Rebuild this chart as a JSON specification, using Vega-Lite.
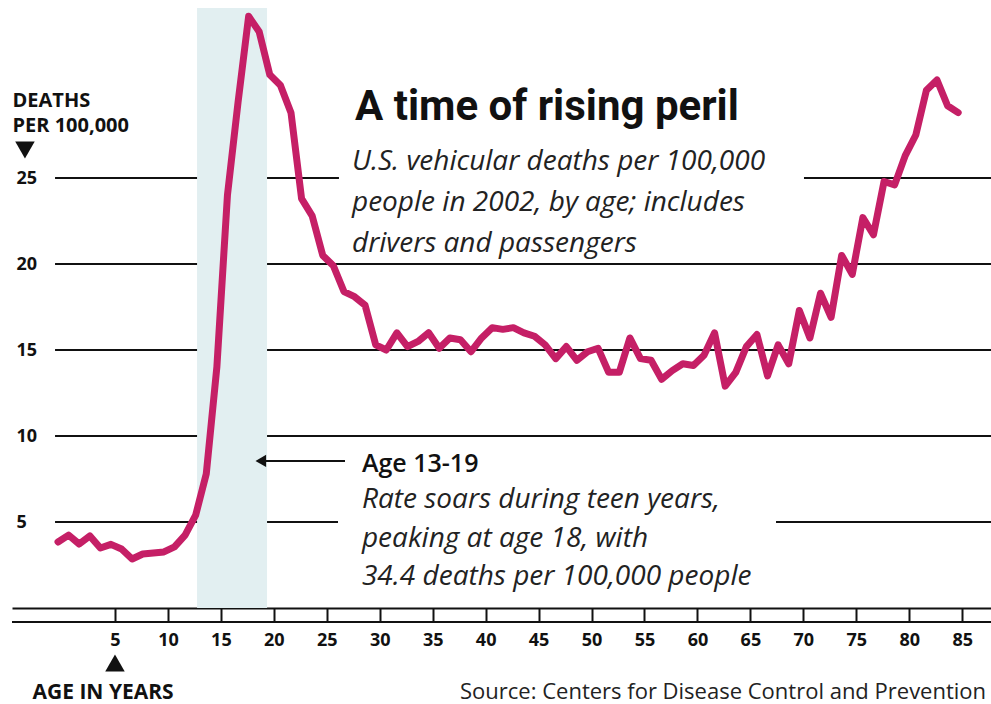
{
  "$schema": "https://vega.github.io/schema/vega-lite/v6.json",
  "width": 979,
  "height": 608,
  "padding": {"left": 12, "top": 0, "right": 0, "bottom": 96},
  "autosize": {"type": "none"},
  "background": "white",
  "config": {"view": {"stroke": null}, "font": "Open Sans", "axis": {"grid": false}},
  "datasets": {
    "deaths": [
      {"age": 0, "rate": 3.84}, {"age": 1, "rate": 4.24}, {"age": 2, "rate": 3.72}, {"age": 3, "rate": 4.19},
      {"age": 4, "rate": 3.49}, {"age": 5, "rate": 3.7}, {"age": 6, "rate": 3.43}, {"age": 7, "rate": 2.85},
      {"age": 8, "rate": 3.14}, {"age": 9, "rate": 3.2}, {"age": 10, "rate": 3.26}, {"age": 11, "rate": 3.55},
      {"age": 12, "rate": 4.24}, {"age": 13, "rate": 5.4}, {"age": 14, "rate": 7.8}, {"age": 15, "rate": 14.0},
      {"age": 16, "rate": 24.0}, {"age": 17, "rate": 29.4}, {"age": 18, "rate": 34.4}, {"age": 19, "rate": 33.5},
      {"age": 20, "rate": 31.0}, {"age": 21, "rate": 30.4}, {"age": 22, "rate": 28.8}, {"age": 23, "rate": 23.8},
      {"age": 24, "rate": 22.8}, {"age": 25, "rate": 20.5}, {"age": 26, "rate": 19.9}, {"age": 27, "rate": 18.4},
      {"age": 28, "rate": 18.1}, {"age": 29, "rate": 17.6}, {"age": 30, "rate": 15.3}, {"age": 31, "rate": 15.0},
      {"age": 32, "rate": 16.0}, {"age": 33, "rate": 15.2}, {"age": 34, "rate": 15.5}, {"age": 35, "rate": 16.0},
      {"age": 36, "rate": 15.1}, {"age": 37, "rate": 15.7}, {"age": 38, "rate": 15.6}, {"age": 39, "rate": 14.9},
      {"age": 40, "rate": 15.7}, {"age": 41, "rate": 16.3}, {"age": 42, "rate": 16.2}, {"age": 43, "rate": 16.3},
      {"age": 44, "rate": 16.0}, {"age": 45, "rate": 15.8}, {"age": 46, "rate": 15.3}, {"age": 47, "rate": 14.5},
      {"age": 48, "rate": 15.2}, {"age": 49, "rate": 14.4}, {"age": 50, "rate": 14.9}, {"age": 51, "rate": 15.1},
      {"age": 52, "rate": 13.7}, {"age": 53, "rate": 13.7}, {"age": 54, "rate": 15.7}, {"age": 55, "rate": 14.5},
      {"age": 56, "rate": 14.4}, {"age": 57, "rate": 13.3}, {"age": 58, "rate": 13.8}, {"age": 59, "rate": 14.2},
      {"age": 60, "rate": 14.1}, {"age": 61, "rate": 14.7}, {"age": 62, "rate": 16.0}, {"age": 63, "rate": 12.9},
      {"age": 64, "rate": 13.7}, {"age": 65, "rate": 15.2}, {"age": 66, "rate": 15.9}, {"age": 67, "rate": 13.5},
      {"age": 68, "rate": 15.3}, {"age": 69, "rate": 14.2}, {"age": 70, "rate": 17.3}, {"age": 71, "rate": 15.7},
      {"age": 72, "rate": 18.3}, {"age": 73, "rate": 16.9}, {"age": 74, "rate": 20.5}, {"age": 75, "rate": 19.4},
      {"age": 76, "rate": 22.7}, {"age": 77, "rate": 21.7}, {"age": 78, "rate": 24.8}, {"age": 79, "rate": 24.6},
      {"age": 80, "rate": 26.3}, {"age": 81, "rate": 27.5}, {"age": 82, "rate": 30.1}, {"age": 83, "rate": 30.7},
      {"age": 84, "rate": 29.2}, {"age": 85, "rate": 28.8}
    ],
    "grid": [
      {"level": 5, "from": -0.28, "to": 26.44}, {"level": 5, "from": 67.8, "to": 88.1},
      {"level": 10, "from": -0.28, "to": 88.1},
      {"level": 15, "from": -0.28, "to": 88.1},
      {"level": 20, "from": -0.28, "to": 88.1},
      {"level": 25, "from": -0.28, "to": 26.53}, {"level": 25, "from": 70.44, "to": 88.1}
    ]
  },
  "layer": [
    {
      "data": {"name": "grid"},
      "mark": {"type": "rule", "color": "#111111", "strokeWidth": 1.8},
      "encoding": {
        "x": {"field": "from", "type": "quantitative"},
        "x2": {"field": "to"},
        "y": {"field": "level", "type": "quantitative"}
      }
    },
    {
      "data": {"values": [{}]},
      "mark": {"type": "rect", "color": "#e2eff1"},
      "encoding": {
        "x": {"datum": 13.13, "type": "quantitative"},
        "x2": {"datum": 19.74},
        "y": {"datum": 0, "type": "quantitative"},
        "y2": {"datum": 34.88}
      }
    },
    {
      "data": {"values": [{}]},
      "mark": {"type": "rule", "color": "#111111", "strokeWidth": 2},
      "encoding": {
        "y": {"datum": -0.814, "type": "quantitative"}
      }
    },
    {
      "data": {"name": "deaths"},
      "mark": {"type": "line", "color": "#c51f66", "strokeWidth": 7, "strokeJoin": "round", "strokeCap": "round"},
      "encoding": {
        "x": {
          "field": "age", "type": "quantitative",
          "scale": {"domain": [-4.344, 88.1], "nice": false, "zero": false},
          "axis": {
            "values": [5.38, 10.38, 15.38, 20.38, 25.38, 30.38, 35.38, 40.38, 45.38, 50.38, 55.38, 60.38, 65.38, 70.38, 75.38, 80.38, 85.38],
            "format": "d",
            "grid": false,
            "domain": true, "domainColor": "#111111", "domainWidth": 2,
            "ticks": true, "tickSize": 14, "tickWidth": 2, "tickColor": "#111111",
            "labelFont": "Open Sans", "labelFontWeight": "bold", "labelFontSize": 18, "labelColor": "#111111",
            "labelPadding": 9, "labelFlush": false, "labelOverlap": false,
            "title": "AGE IN YEARS",
            "titleFont": "Open Sans", "titleFontWeight": "bold", "titleFontSize": 21, "titleColor": "#111111",
            "titleAlign": "left", "titleAnchor": "start", "titleBaseline": "alphabetic",
            "titleX": 20, "titleY": 90
          }
        },
        "y": {
          "field": "rate", "type": "quantitative",
          "scale": {"domain": [0, 35.35], "nice": false, "zero": false},
          "axis": {
            "values": [5, 10, 15, 20, 25],
            "grid": false, "domain": false, "ticks": false, "tickSize": 0,
            "labelAlign": "left", "labelBaseline": "middle", "labelPadding": -4,
            "labelFont": "Open Sans", "labelFontWeight": "bold", "labelFontSize": 18, "labelColor": "#111111",
            "labelFlush": false, "labelOverlap": false,
            "title": ["DEATHS", "PER 100,000"],
            "titleFont": "Open Sans", "titleFontWeight": "bold", "titleFontSize": 20, "titleColor": "#111111",
            "titleAngle": 0, "titleAlign": "left", "titleAnchor": "start", "titleBaseline": "alphabetic",
            "titleX": 0, "titleY": 106, "titleLineHeight": 25
          }
        }
      }
    },
    {
      "data": {"values": [{}]},
      "mark": {"type": "point", "shape": "triangle-down", "filled": true, "opacity": 1, "color": "#111111", "size": 380},
      "encoding": {
        "x": {"datum": -3.12, "type": "quantitative"},
        "y": {"datum": 26.63, "type": "quantitative"}
      }
    },
    {
      "data": {"values": [{}]},
      "mark": {"type": "point", "shape": "triangle-up", "filled": true, "opacity": 1, "color": "#111111", "size": 380},
      "encoding": {
        "x": {"datum": 5.38, "type": "quantitative"},
        "y": {"datum": -3.2, "type": "quantitative"}
      }
    },
    {
      "data": {"values": [{}]},
      "mark": {"type": "text", "text": "A time of rising peril", "font": "Roboto", "fontWeight": "bold", "fontSize": 42, "align": "left", "baseline": "alphabetic", "color": "#111111"},
      "encoding": {
        "x": {"datum": 28.05, "type": "quantitative"},
        "y": {"datum": 28.37, "type": "quantitative"}
      }
    },
    {
      "data": {"values": [{}]},
      "mark": {"type": "text", "text": ["U.S. vehicular deaths per 100,000", "people in 2002, by age; includes", "drivers and passengers"], "font": "Open Sans", "fontStyle": "italic", "fontSize": 28, "lineHeight": 41, "align": "left", "baseline": "alphabetic", "color": "#222222"},
      "encoding": {
        "x": {"datum": 27.76, "type": "quantitative"},
        "y": {"datum": 25.47, "type": "quantitative"}
      }
    },
    {
      "data": {"values": [{}]},
      "mark": {"type": "rule", "color": "#111111", "strokeWidth": 2},
      "encoding": {
        "x": {"datum": 19.0, "type": "quantitative"},
        "x2": {"datum": 27.1},
        "y": {"datum": 8.55, "type": "quantitative"}
      }
    },
    {
      "data": {"values": [{}]},
      "mark": {"type": "point", "shape": "triangle-left", "filled": true, "opacity": 1, "color": "#111111", "size": 150},
      "encoding": {
        "x": {"datum": 19.15, "type": "quantitative"},
        "y": {"datum": 8.55, "type": "quantitative"}
      }
    },
    {
      "data": {"values": [{}]},
      "mark": {"type": "text", "text": "Age 13-19", "font": "Open Sans", "fontWeight": 600, "fontSize": 25, "align": "left", "baseline": "alphabetic", "color": "#111111"},
      "encoding": {
        "x": {"datum": 28.7, "type": "quantitative"},
        "y": {"datum": 7.91, "type": "quantitative"}
      }
    },
    {
      "data": {"values": [{}]},
      "mark": {"type": "text", "text": ["Rate soars during teen years,", "peaking at age 18, with", "34.4 deaths per 100,000 people"], "font": "Open Sans", "fontStyle": "italic", "fontSize": 28, "lineHeight": 38.5, "align": "left", "baseline": "alphabetic", "color": "#222222"},
      "encoding": {
        "x": {"datum": 28.7, "type": "quantitative"},
        "y": {"datum": 5.81, "type": "quantitative"}
      }
    },
    {
      "data": {"values": [{}]},
      "mark": {"type": "text", "text": "Source: Centers for Disease Control and Prevention", "font": "Open Sans", "fontSize": 22, "align": "left", "baseline": "alphabetic", "color": "#222222"},
      "encoding": {
        "x": {"datum": 37.96, "type": "quantitative"},
        "y": {"datum": -5.29, "type": "quantitative"}
      }
    }
  ]
}
